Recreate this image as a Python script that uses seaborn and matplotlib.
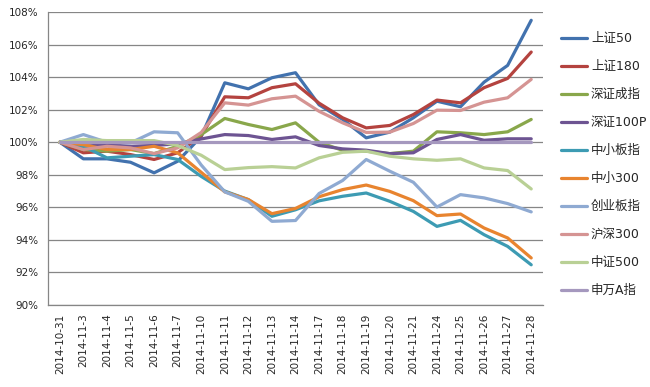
import numpy as np
import pandas as pd
import seaborn as sns
import matplotlib.pyplot as plt
from matplotlib.ticker import FixedLocator, FuncFormatter

# 日期
dates = ['2014-10-31', '2014-11-3', '2014-11-4', '2014-11-5', '2014-11-6', '2014-11-7',
         '2014-11-10', '2014-11-11', '2014-11-12', '2014-11-13', '2014-11-14',
         '2014-11-17', '2014-11-18', '2014-11-19', '2014-11-20', '2014-11-21',
         '2014-11-24', '2014-11-25', '2014-11-26', '2014-11-27', '2014-11-28']

names = ['上证50', '上证180', '深证成指', '深证100P', '中小板指',
         '中小300', '创业板指', '沪深300', '中证500', '申万A指']

sz50 = [100, 98.98, 98.98, 98.77, 98.12, 98.83, 100.35, 103.65, 103.28, 103.96, 104.27,
        102.3, 101.4, 100.27, 100.62, 101.5, 102.52, 102.18, 103.69, 104.72, 107.49]
sz180 = [100, 99.35, 99.45, 99.24, 98.94, 99.35, 100.4, 102.79, 102.73, 103.35, 103.59,
         102.4, 101.5, 100.88, 101.03, 101.7, 102.59, 102.42, 103.35, 103.92, 105.54]
szcz = [100, 99.55, 99.45, 99.55, 99.3, 99.75, 100.47, 101.46, 101.09, 100.78, 101.19,
        100.0, 99.5, 99.45, 99.3, 99.45, 100.64, 100.58, 100.47, 100.64, 101.4]
sz100p = [100, 99.75, 99.85, 99.75, 99.8, 99.9, 100.2, 100.47, 100.41, 100.17, 100.33,
          99.8, 99.59, 99.51, 99.3, 99.35, 100.17, 100.47, 100.12, 100.21, 100.21]
zxbz = [100, 99.75, 99.04, 99.14, 99.24, 98.94, 97.9, 97.0, 96.47, 95.45, 95.85,
        96.4, 96.68, 96.88, 96.37, 95.75, 94.83, 95.2, 94.32, 93.6, 92.47]
zx300 = [100, 99.85, 99.55, 99.55, 99.75, 99.35, 98.15, 96.95, 96.48, 95.61, 95.93,
         96.65, 97.09, 97.37, 96.98, 96.41, 95.49, 95.59, 94.73, 94.12, 92.89]
cybz = [100, 100.47, 100.0, 99.96, 100.64, 100.58, 98.6, 96.95, 96.37, 95.14, 95.19,
        96.85, 97.65, 98.94, 98.22, 97.54, 96.02, 96.78, 96.58, 96.23, 95.72]
hs300 = [100, 99.55, 99.75, 99.65, 99.3, 99.65, 100.6, 102.42, 102.28, 102.67, 102.83,
         101.9, 101.19, 100.6, 100.62, 101.15, 101.97, 101.95, 102.46, 102.73, 103.86]
zz500 = [100, 100.17, 100.1, 100.1, 100.1, 99.8, 99.2, 98.32, 98.44, 98.5, 98.42,
         99.04, 99.38, 99.45, 99.14, 98.98, 98.89, 98.98, 98.42, 98.26, 97.13]
swa = [100] * 21

colors = ['#4272AE', '#B4433F', '#89A74B', '#6D5492', '#3D9BB3',
          '#E8842F', '#8FAAD2', '#D59493', '#B9D095', '#A598BE']

series = [sz50, sz180, szcz, sz100p, zxbz, zx300, cybz, hs300, zz500, swa]
rows = []
for n, vals in zip(names, series):
    for d, v in zip(dates, vals):
        rows.append({'date': d, 'value': v, 'index': n})
df = pd.DataFrame(rows)

sns.set_style('white')
plt.rcParams['font.family'] = ['DejaVu Sans', 'Noto Sans CJK SC']

fig = plt.figure(figsize=(6.5, 3.87), dpi=100)
ax = fig.add_axes([48 / 650, 1 - 305 / 387, 495 / 650, 293 / 387])

sns.lineplot(data=df, x='date', y='value', hue='index', hue_order=names,
             palette=dict(zip(names, colors)), linewidth=2.3, sort=False, ax=ax)

ax.set_xlim(-0.5, len(dates) - 0.5)
ax.set_ylim(90, 108)
ax.set_yticks(np.arange(90, 109, 2))
ax.yaxis.set_major_formatter(FuncFormatter(lambda v, p: '%d%%' % v))
ax.grid(axis='y', color='#868686', linewidth=0.9)
ax.set_axisbelow(True)

ax.set_xticks(range(len(dates)))
ax.set_xticklabels(dates, rotation=90, fontsize=7.5)
ax.xaxis.set_minor_locator(FixedLocator(np.arange(-0.5, len(dates), 1)))
ax.tick_params(axis='x', which='major', length=0, pad=6)
ax.tick_params(axis='x', which='minor', length=5, color='#868686', width=0.9)
ax.tick_params(axis='y', length=5, color='#868686', width=0.9, labelsize=7.5, pad=2)
ax.set_xlabel('')
ax.set_ylabel('')

for s in ['top', 'right']:
    ax.spines[s].set_visible(False)
for s in ['left', 'bottom']:
    ax.spines[s].set_color('#868686')
    ax.spines[s].set_linewidth(0.9)

h, l = ax.get_legend_handles_labels()
ax.legend(h, l, loc='upper left', bbox_to_anchor=(556 / 650, 1 - 27 / 387),
          bbox_transform=fig.transFigure, frameon=False, fontsize=9,
          labelspacing=1.2, handlelength=2.1, handletextpad=0.3, borderaxespad=0)

plt.savefig('out.png', dpi=100)
